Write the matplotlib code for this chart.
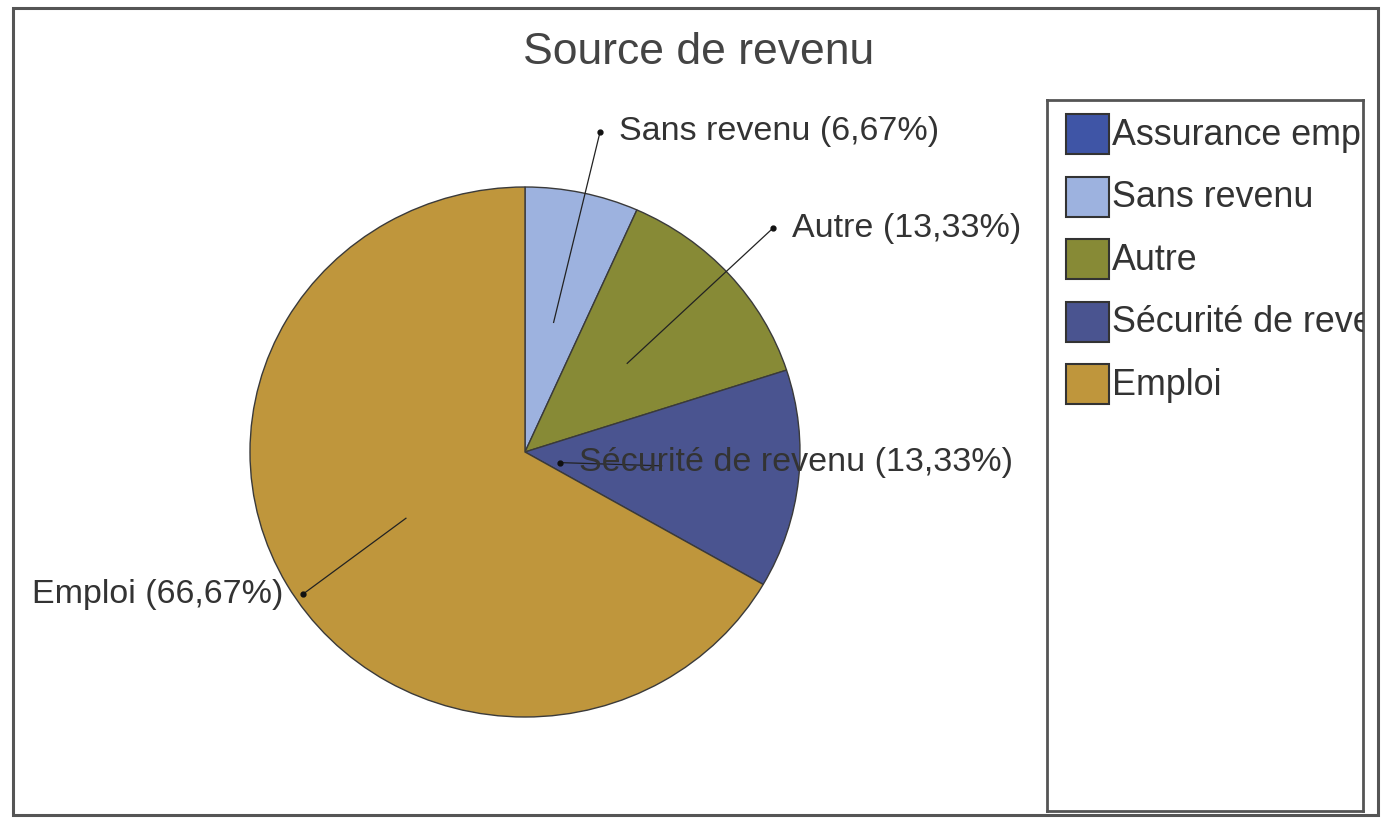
import numpy as np
import matplotlib
matplotlib.use("Agg")
import matplotlib.pyplot as plt
from matplotlib.patches import Rectangle

plt.rcParams['font.family'] = ['Liberation Sans', 'DejaVu Sans']

title = "Source de revenu"
categories = ["Assurance emploi", "Sans revenu", "Autre", "Sécurité de revenu", "Emploi"]
values = [0.0, 6.67, 13.33, 13.33, 66.67]
colors = ["#3f55a6", "#9db2df", "#878a36", "#4a5490", "#bf963c"]

# label placement (data units of the pie axes; layout only)
label_pos = {
    "Sans revenu": (0.273, 1.208, 'left'),
    "Autre": (0.902, 0.845, 'left'),
    "Sécurité de revenu": (0.127, -0.040, 'left'),
    "Emploi": (-0.807, -0.536, 'right'),
}

W, H = 1383, 825
fig = plt.figure(figsize=(W / 100, H / 100), dpi=100)
fig.patch.set_facecolor("white")

# outer frame
fig.add_artist(Rectangle((13 / W, (H - 815) / H), (1378 - 13) / W, (815 - 8) / H,
                         transform=fig.transFigure, fill=False, ec="#555555", lw=2.2))

# pie axes covering whole figure, scaled so the pie is centred at (525, 452) px
ax = fig.add_axes([0, 0, 1, 1])
cx, cy, rx, ry = 525, 452, 275, 265
wedges, _ = ax.pie(values, colors=colors, startangle=90, counterclock=False,
                   wedgeprops=dict(edgecolor="#3a3a3a", linewidth=1.0))
ax.set_aspect('auto')
ax.set_xlim(-cx / rx, (W - cx) / rx)
ax.set_ylim(-(H - cy) / ry, cy / ry)
ax.axis('off')

for w, cat, v in zip(wedges, categories, values):
    if cat not in label_pos:
        continue
    mid = np.deg2rad((w.theta1 + w.theta2) / 2)
    ax0, ay0 = 0.5 * np.cos(mid), 0.5 * np.sin(mid)
    dx, dy, ha = label_pos[cat]
    ax.plot([ax0, dx], [ay0, dy], color="#222222", lw=0.9, zorder=3)
    ax.plot([dx], [dy], marker='o', ms=3.5, color="#111111", zorder=4)
    off = 0.07 if ha == 'left' else -0.072
    ax.text(dx + off, dy, f"{cat} ({v:.2f}%)".replace('.', ','), ha=ha, va='center',
            fontsize=24.5, color="#333333", zorder=5)

fig.text(699 / W, 1 - 52 / H, title, ha='center', va='center', fontsize=32, color="#444444")

# legend box (text clipped at the box edge as in the reference)
lx0, lx1, ly0, ly1 = 1047, 1363, 100, 811
lax = fig.add_axes([lx0 / W, (H - ly1) / H, (lx1 - lx0) / W, (ly1 - ly0) / H])
lax.set_xlim(lx0, lx1)
lax.set_ylim(ly1, ly0)
lax.set_xticks([])
lax.set_yticks([])
for s in lax.spines.values():
    s.set_color("#555555")
    s.set_linewidth(2.0)
for i, (cat, c) in enumerate(zip(categories, colors)):
    yc = 134 + i * 62.5
    lax.add_patch(Rectangle((1066, yc - 20), 43, 40, fc=c, ec="#333333", lw=1.5))
    t = lax.text(1112, yc + 1, cat, ha='left', va='center', fontsize=25.8, color="#333333")
    t.set_clip_on(True)

fig.savefig("out.png", dpi=100, facecolor="white")
